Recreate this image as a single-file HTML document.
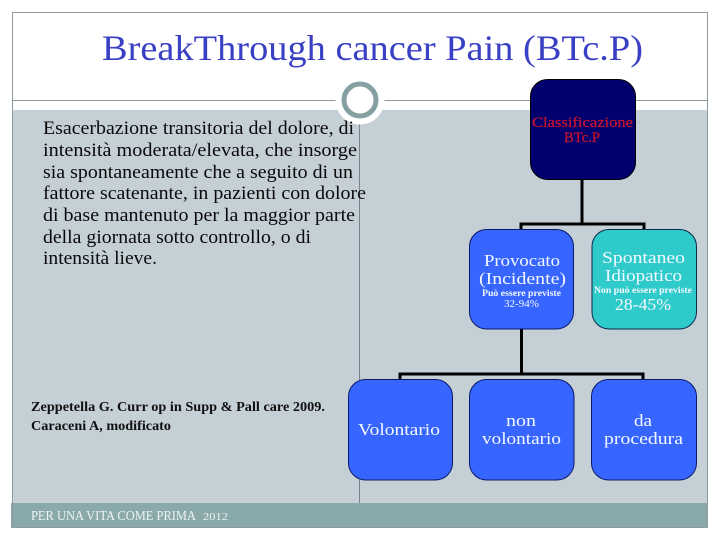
<!DOCTYPE html>
<html>
<head>
<meta charset="utf-8">
<style>
html,body{margin:0;padding:0;background:#fff;width:720px;height:540px;overflow:hidden}
svg{display:block}
text{font-family:"Liberation Serif",serif}
.b{font-size:18.500px;fill:#0a0a0a}
.w{fill:#f4f7ff;font-size:16.500px}
</style>
</head>
<body>
<svg width="720" height="540" viewBox="0 0 720 540" xmlns="http://www.w3.org/2000/svg">
<rect width="720" height="540" fill="#fff"/>
<!-- panels -->
<rect x="12" y="110" width="696" height="393" fill="#c5cfd6"/>
<rect x="11" y="503" width="697" height="25" fill="#8aa9ab"/>
<rect x="12.5" y="12.5" width="695" height="515" fill="none" stroke="#8a9aa0" stroke-width="1"/>
<line x1="12" y1="100.500" x2="708" y2="100.500" stroke="#8a9aa0" stroke-width="1"/>
<line x1="359.500" y1="118" x2="359.500" y2="503" stroke="#77838f" stroke-width="1"/>
<!-- circle -->
<circle cx="360" cy="100" r="24.500" fill="#fff"/>
<circle cx="360" cy="100" r="16" fill="#fff" stroke="#84a0a0" stroke-width="5"/>
<!-- title -->
<text x="102" y="60" font-size="36" fill="#3a40c4" textLength="541" lengthAdjust="spacingAndGlyphs">BreakThrough cancer Pain (BTc.P)</text>
<!-- body -->
<text class="b" x="43" y="134" textLength="311" lengthAdjust="spacingAndGlyphs">Esacerbazione transitoria del dolore, di</text>
<text class="b" x="43" y="156" textLength="314" lengthAdjust="spacingAndGlyphs">intensità moderata/elevata, che insorge</text>
<text class="b" x="43" y="178" textLength="310" lengthAdjust="spacingAndGlyphs">sia spontaneamente che a seguito di un</text>
<text class="b" x="43" y="199" textLength="323" lengthAdjust="spacingAndGlyphs">fattore scatenante, in pazienti con dolore</text>
<text class="b" x="43" y="221" textLength="312" lengthAdjust="spacingAndGlyphs">di base mantenuto per la maggior parte</text>
<text class="b" x="43" y="243" textLength="268" lengthAdjust="spacingAndGlyphs">della giornata sotto controllo, o di</text>
<text class="b" x="43" y="264" textLength="114" lengthAdjust="spacingAndGlyphs">intensità lieve.</text>
<!-- citation -->
<text x="31" y="411" font-size="14" font-weight="bold" fill="#111" textLength="294" lengthAdjust="spacingAndGlyphs">Zeppetella G.  Curr op in Supp &amp; Pall care 2009.</text>
<text x="31" y="430" font-size="14" font-weight="bold" fill="#111" textLength="140" lengthAdjust="spacingAndGlyphs">Caraceni A, modificato</text>
<!-- footer -->
<text x="31" y="520" font-size="14" fill="#eef3f3" textLength="165" lengthAdjust="spacingAndGlyphs">PER UNA VITA COME PRIMA</text>
<text x="203" y="520" font-size="11" fill="#eef3f3" textLength="25" lengthAdjust="spacingAndGlyphs">2012</text>
<!-- connectors -->
<g stroke="#000" stroke-width="3" fill="none">
<path d="M582 180V224M521 229V224H644V229"/>
<path d="M521.500 329V374M400 380V374H643V380"/>
</g>
<!-- boxes -->
<rect x="530.500" y="79.500" width="105" height="100" rx="17" fill="#00006e" stroke="#000" stroke-width="1"/>
<rect x="469.500" y="229.500" width="104" height="99.500" rx="17" fill="#3666ff" stroke="#0a1a6a" stroke-width="1"/>
<rect x="592" y="229.500" width="104.500" height="99.500" rx="17" fill="#2fcbcb" stroke="#0a2a4a" stroke-width="1"/>
<rect x="348.500" y="379.500" width="104" height="100.500" rx="17" fill="#3666ff" stroke="#0a1a6a" stroke-width="1"/>
<rect x="469.500" y="379.500" width="104.500" height="100.500" rx="17" fill="#3666ff" stroke="#0a1a6a" stroke-width="1"/>
<rect x="591.500" y="379.500" width="105" height="100.500" rx="17" fill="#3666ff" stroke="#0a1a6a" stroke-width="1"/>
<!-- box labels -->
<text x="532" y="127" font-size="15" fill="#c8142e" stroke="#c8142e" stroke-width=".25" textLength="101" lengthAdjust="spacingAndGlyphs">Classificazione</text>
<text x="564" y="142" font-size="15" fill="#c8142e" stroke="#c8142e" stroke-width=".25" textLength="36" lengthAdjust="spacingAndGlyphs">BTc.P</text>

<text class="w" x="484" y="266" textLength="76" lengthAdjust="spacingAndGlyphs">Provocato</text>
<text class="w" x="479" y="284" textLength="87" lengthAdjust="spacingAndGlyphs">(Incidente)</text>
<text x="482" y="296" font-size="9.500" font-weight="bold" fill="#f4f7ff" textLength="79" lengthAdjust="spacingAndGlyphs">Può essere previste</text>
<text x="504" y="307" font-size="11" fill="#f4f7ff" textLength="35" lengthAdjust="spacingAndGlyphs">32-94%</text>

<text class="w" x="602" y="263" textLength="83" lengthAdjust="spacingAndGlyphs">Spontaneo</text>
<text class="w" x="605" y="281" textLength="77" lengthAdjust="spacingAndGlyphs">Idiopatico</text>
<text x="594" y="293" font-size="9.500" font-weight="bold" fill="#f4f7ff" textLength="98" lengthAdjust="spacingAndGlyphs">Non può essere previste</text>
<text class="w" x="615" y="310" textLength="56" lengthAdjust="spacingAndGlyphs">28-45%</text>

<text class="w" x="358" y="435" textLength="82" lengthAdjust="spacingAndGlyphs">Volontario</text>
<text class="w" x="506" y="426" textLength="30" lengthAdjust="spacingAndGlyphs">non</text>
<text class="w" x="482" y="444" textLength="79" lengthAdjust="spacingAndGlyphs">volontario</text>
<text class="w" x="634" y="426" textLength="18" lengthAdjust="spacingAndGlyphs">da</text>
<text class="w" x="604" y="444" textLength="79" lengthAdjust="spacingAndGlyphs">procedura</text>
</svg>
</body>
</html>
